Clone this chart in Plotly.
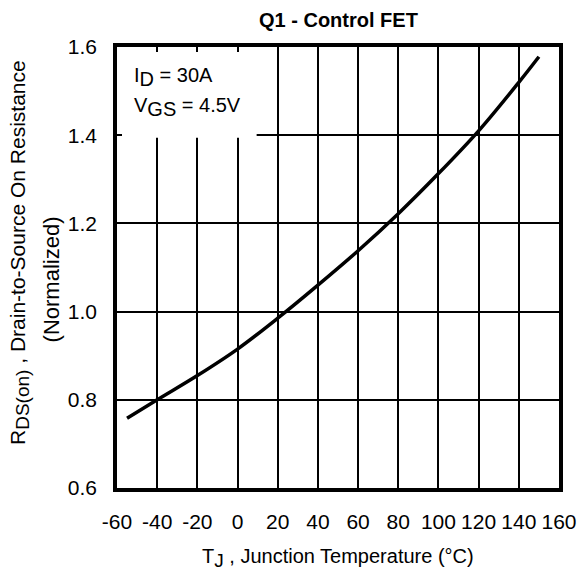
import plotly.graph_objects as go

temp_c = [-55, -40, -20, 0, 20, 40, 60, 80, 100, 120, 140, 150]
rds_norm = [0.758, 0.800, 0.855, 0.915, 0.985, 1.060, 1.138, 1.222, 1.313, 1.410, 1.520, 1.578]

x_ticks = [-60, -40, -20, 0, 20, 40, 60, 80, 100, 120, 140, 160]
y_ticks = [0.6, 0.8, 1.0, 1.2, 1.4, 1.6]
y_tick_labels = ["0.6", "0.8", "1.0", "1.2", "1.4", "1.6"]

FONT = "Liberation Sans, Arial, Helvetica, sans-serif"


def sub(t, size):
    return f'<sub><span style="font-size:{size}px">{t}</span></sub>'


fig = go.Figure()
fig.add_trace(go.Scatter(x=temp_c, y=rds_norm, mode="lines",
                         line=dict(color="black", width=3.5, shape="spline", smoothing=1.0),
                         hoverinfo="skip", showlegend=False))

# white box behind the condition text (hides gridlines)
fig.add_shape(type="rect", xref="x", yref="y", x0=-60, x1=9.5, y0=1.394, y1=1.6,
              fillcolor="white", line=dict(width=0), layer="between")

common = dict(showgrid=True, gridcolor="black", gridwidth=2,
              showline=True, linecolor="black", linewidth=3.5, mirror="ticks",
              ticks="inside", ticklen=5, tickwidth=2, tickcolor="black",
              zeroline=False, automargin=False,
              tickfont=dict(size=21, color="black", family=FONT))
fig.update_xaxes(range=[-60, 160], tickmode="array", tickvals=x_ticks,
                 ticktext=[str(v) for v in x_ticks], ticklabelstandoff=12, **common)
fig.update_yaxes(range=[0.6, 1.6], tickmode="array", tickvals=y_ticks,
                 ticktext=y_tick_labels, ticklabelstandoff=12, **common)

ann = [
    dict(text="<b>Q1 - Control FET</b>", x=0.5, y=1.062, xref="paper", yref="paper",
         showarrow=False, font=dict(size=20, color="black", family=FONT),
         xanchor="center", yanchor="middle"),
    dict(text="T" + sub("J", 19) + " , Junction Temperature (°C)", x=0.5, y=-0.158,
         xref="paper", yref="paper",
         showarrow=False, font=dict(size=20, color="black", family=FONT),
         xanchor="center", yanchor="middle"),
    dict(text="R" + sub("DS(on)", 19) + " , Drain-to-Source On Resistance", x=-0.222, y=0.535,
         xref="paper", yref="paper", textangle=-90,
         showarrow=False, font=dict(size=21, color="black", family=FONT),
         xanchor="center", yanchor="middle"),
    dict(text="(Normalized)", x=-0.148, y=0.472,
         xref="paper", yref="paper", textangle=-90,
         showarrow=False, font=dict(size=22, color="black", family=FONT),
         xanchor="center", yanchor="middle"),
    dict(text="I" + sub("D", 20) + " = 30A", x=-52.5, y=1.531, xref="x", yref="y",
         showarrow=False, font=dict(size=20, color="black", family=FONT),
         xanchor="left", yanchor="middle"),
    dict(text="V" + sub("GS", 20) + " = 4.5V", x=-52.5, y=1.463, xref="x", yref="y",
         showarrow=False, font=dict(size=20, color="black", family=FONT),
         xanchor="left", yanchor="middle"),
]
fig.update_layout(width=579, height=575, margin=dict(l=117, r=20, t=47, b=87),
                  paper_bgcolor="white", plot_bgcolor="white", annotations=ann,
                  font=dict(family=FONT, color="black"))

fig.write_html("out.html", config={"displayModeBar": False},
               post_script="document.body.style.margin='0';")
